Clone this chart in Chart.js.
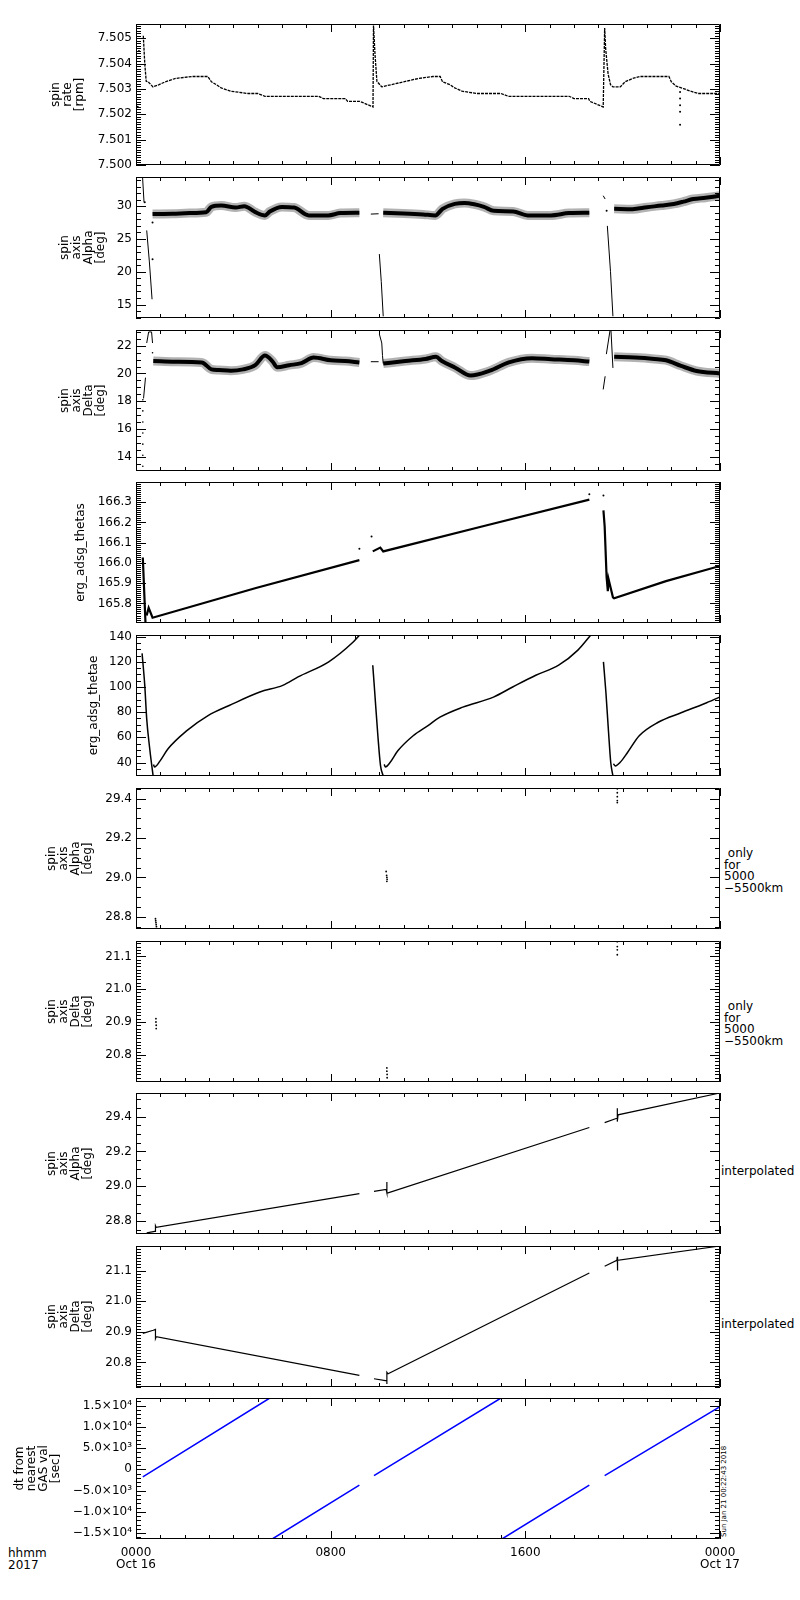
<!DOCTYPE html>
<html>
<head>
<meta charset="utf-8">
<script src="https://cdn.jsdelivr.net/npm/chart.js@4.4.0/dist/chart.umd.min.js"></script>
<style>
  body { margin: 0; background: #fff; }
  #page { position: relative; width: 800px; height: 1600px; font-family: 'DejaVu Sans', sans-serif; font-size: 12px; color: #000; }
  #page canvas { position: absolute; left: 0; }
  .side { position: absolute; white-space: pre; line-height: 11.7px; }
</style>
</head>
<body>
<div id="page">
  <div class="side" style="left:724px; top:848px;"> only
for
5000
−5500km</div>
  <div class="side" style="left:724px; top:1001px;"> only
for
5000
−5500km</div>
  <div class="side" style="left:721px; top:1166px;">interpolated</div>
  <div class="side" style="left:721px; top:1319px;">interpolated</div>
  <div class="side" style="left:8px; top:1547px; line-height:12px;">hhmm
2017</div>
  <div style="position:absolute; left:721px; top:1537px; font-size:7px; line-height:7px; white-space:nowrap; transform-origin:0 0; transform:rotate(-90deg);">Sun Jan 21 00:22:43 2018</div>
</div>
<script>
// time axis (hours since 0000 Oct 16)
const timeTicks = [0, 8, 16, 24];
const timeLabels = [['0000', 'Oct 16'], ['0800'], ['1600'], ['0000', 'Oct 17']];

// spin rate [rpm]
const rateHours = [0.30, 0.36, 0.42, 0.5, 0.7, 0.95, 1.2, 1.6, 2.3, 2.95,
  3.1, 3.3, 3.5, 3.9, 4.6, 5.0, 5.3, 7.5, 7.7, 8.6,
  8.7, 9.2, 9.74, 9.76, 9.82, 9.9, 10.1, 10.5, 11.0, 11.6,
  12.2, 12.5, 12.6, 12.9, 13.1, 13.4, 14.0, 15.0, 15.3, 17.8,
  18.0, 18.6, 18.65, 19.2, 19.26, 19.3, 19.4, 19.5, 19.6, 19.9,
  20.1, 20.4, 20.7, 21.9, 22.0, 22.2, 22.5, 22.8, 23.1, 24.0];
const rateRpm = [7.5051, 7.5040, 7.5033, 7.50328, 7.50308, 7.50317, 7.50328, 7.50341, 7.50349, 7.50349,
  7.50328, 7.50317, 7.50304, 7.50291, 7.50282, 7.50282, 7.50271, 7.50271, 7.50262, 7.50262,
  7.50251, 7.50251, 7.50229, 7.5055, 7.5044, 7.5033, 7.50308, 7.50317, 7.50328, 7.50341,
  7.50349, 7.50349, 7.50328, 7.50317, 7.50304, 7.50291, 7.50282, 7.50282, 7.50271, 7.50271,
  7.50262, 7.50262, 7.50251, 7.50229, 7.5054, 7.5046, 7.5036, 7.50317, 7.50308, 7.50308,
  7.50328, 7.50341, 7.50349, 7.50349, 7.50328, 7.50311, 7.50301, 7.50291, 7.50282, 7.50282];
const rateDotHours = [0.07, 0.12, 22.36, 22.36, 22.36, 22.36, 22.36];
const rateDotRpm = [7.5023, 7.5045, 7.50288, 7.50262, 7.50236, 7.5021, 7.50159];
const rateTicks = [7.500, 7.501, 7.502, 7.503, 7.504, 7.505];

// spin axis Alpha [deg]
const alphaBandHours = [0.68, 1.5, 2.2, 2.88, 3.1, 3.5, 4.1, 4.45, 4.9, 5.3, 5.5, 6.0, 6.5, 7.1, 7.9, 8.4, 9.18,
  9.5,
  10.16, 11.0, 11.8, 12.3, 12.6, 13.1, 13.5, 13.9, 14.3, 14.7, 15.5, 16.1, 17.05, 17.8, 18.63,
  19.0,
  19.65, 20.4, 21.0, 21.6, 22.1, 22.5, 22.9, 23.4, 24];
const alphaBandDeg = [28.82, 28.85, 28.95, 29.08, 29.9, 30.1, 29.8, 30.0, 29.1, 28.6, 29.2, 29.9, 29.8, 28.6, 28.6, 28.95, 29.0,
  null,
  29.0, 28.9, 28.75, 28.6, 29.6, 30.35, 30.5, 30.3, 29.9, 29.3, 29.2, 28.6, 28.6, 28.95, 29.0,
  null,
  29.6, 29.55, 29.85, 30.1, 30.35, 30.7, 31.1, 31.3, 31.6];
const alphaThinHours = [0.27, 0.33, 0.38, 0.44, 0.55, 0.66, 0.7, 9.65, 9.97, 9.98, 10.0, 10.08, 10.16, 10.5, 19.2, 19.28, 19.3, 19.37, 19.5, 19.6];
const alphaThinDeg = [34.4, 30.6, null, 26.3, 21.5, 15.8, null, 28.8, 28.85, null, 22.7, 18.5, 13.2, null, 31.6, 31.1, null, 27.0, 20.0, 13.2];
const alphaDotHours = [0.36, 0.68, 0.68, 19.34];
const alphaDotDeg = [30.6, 27.5, 21.9, 29.3];
const alphaTicks = [15, 20, 25, 30];

// spin axis Delta [deg]
const deltaBandHours = [0.71, 1.6, 2.7, 3.1, 3.4, 3.9, 4.4, 4.9, 5.3, 5.6, 5.8, 6.3, 6.8, 7.3, 8.0, 8.6, 9.18,
  9.6,
  10.16, 11.07, 11.9, 12.33, 12.57, 13.12, 13.75, 14.54, 15.32, 16.27, 17.06, 18.0, 18.63,
  19.0,
  19.65, 20.5, 21.3, 21.78, 22.4, 23.04, 24];
const deltaBandDeg = [20.9, 20.85, 20.8, 20.3, 20.25, 20.2, 20.3, 20.6, 21.3, 20.9, 20.45, 20.6, 20.75, 21.15, 20.95, 20.9, 20.8,
  null,
  20.72, 20.9, 21.05, 21.2, 20.9, 20.42, 19.85, 20.2, 20.8, 21.1, 21.03, 20.95, 20.86,
  null,
  21.2, 21.15, 21.05, 20.96, 20.55, 20.18, 20.0];
const deltaThinHours = [0.31, 0.39, 0.4, 0.44, 0.52, 0.64, 0.68, 0.7, 9.65, 9.97, 9.98, 10.0, 10.1, 10.13, 10.16, 10.5, 19.2, 19.28, 19.3, 19.33, 19.48, 19.5, 19.52, 19.6];
const deltaThinDeg = [18.2, 19.7, null, 22.2, 23.0, 23.0, 22.2, null, 20.85, 20.85, null, 22.85, 22.2, 21.3, 20.72, null, 18.85, 19.8, null, 21.4, 23.1, null, 23.1, 20.4];
const deltaDotHours = [0.28, 0.28, 0.28, 0.28, 0.28, 0.28, 0.28, 0.68];
const deltaDotDeg = [13.3, 14.1, 14.9, 15.7, 16.5, 17.3, 18.1, 21.5];
const deltaTicks = [14, 16, 18, 20, 22];

// erg_adsg_thetas
const thetasHours = [0.28, 0.39, 0.41, 0.44, 0.52, 0.68, 4.93, 9.18, 9.5, 9.73, 10.04, 10.16, 14.38, 18.63, 19.0,
  19.21, 19.26, 19.34, 19.39, 19.42, 19.6, 19.65, 21.78, 24];
const thetasVals = [166.027, 165.703, null, 165.74, 165.778, 165.729, 165.876, 166.014, null, 166.057, 166.076, 166.057, 166.185, 166.313, null,
  166.26, 166.18, 165.93, 165.86, 165.92, 165.83, 165.825, 165.91, 165.985];
const thetasDotHours = [9.18, 9.68, 18.63, 19.21];
const thetasDotVals = [166.07, 166.13, 166.34, 166.333];
const thetasTicks = [165.8, 165.9, 166.0, 166.1, 166.2, 166.3];

// erg_adsg_thetae
const thetaeHours = [0.25, 0.36, 0.44, 0.55, 0.65, 0.70, 0.71,
  0.72, 0.76, 0.99, 1.31, 2.09, 2.96, 3.83, 5.09, 6.03, 6.66, 7.92, 8.87, 9.2, 9.4,
  9.73, 9.81, 9.94, 10.05, 10.16, 10.17,
  10.2, 10.25, 10.44, 10.76, 11.39, 12.0, 12.49, 13.43, 14.69, 15.48, 16.43, 17.37, 18.16, 18.7, 19.0,
  19.21, 19.31, 19.42, 19.51, 19.6, 19.61,
  19.62, 19.7, 19.89, 20.2, 20.68, 21.46, 22.4, 23.35, 23.98];
const thetaeVals = [126.7, 101.3, 74.7, 53.3, 37.3, 30.0, null,
  38.5, 36.5, 41.3, 50.7, 65.3, 77.3, 85.3, 96, 101.3, 108, 120, 134.7, 141.5, null,
  117.3, 96, 61.3, 37.3, 29.3, null,
  38.5, 36.5, 40, 49.3, 61.3, 69.3, 76, 84, 92, 100, 109.3, 117.3, 129.3, 141.5, null,
  120, 96, 64, 40, 29.3, null,
  39, 37.3, 40, 48, 61.3, 72, 79.5, 86.7, 92];
const thetaeTicks = [40, 60, 80, 100, 120, 140];

// spin axis Alpha, only for 5000-5500km
const alphaGasHours = [0.80, 0.81, 0.82, 0.83, 0.84, 10.28, 10.30, 10.31, 10.32, 10.31, 19.78, 19.78, 19.78, 19.78, 19.78];
const alphaGasDeg = [28.79, 28.78, 28.77, 28.76, 28.75, 29.03, 29.01, 29.0, 28.99, 28.98, 29.45, 29.43, 29.41, 29.39, 29.38];
const alphaGasTicks = [28.8, 29.0, 29.2, 29.4];

// spin axis Delta, only for 5000-5500km
const deltaGasHours = [0.82, 0.82, 0.83, 0.83, 10.31, 10.31, 10.32, 10.32, 19.78, 19.78, 19.78, 19.78];
const deltaGasDeg = [20.91, 20.90, 20.89, 20.88, 20.76, 20.75, 20.74, 20.73, 21.145, 21.13, 21.12, 21.105];
const deltaGasTicks = [20.8, 20.9, 21.0, 21.1];

// spin axis Alpha, interpolated
const alphaInterpHours = [0.44, 0.77, 0.80, 0.80, 0.83, 9.18, 9.5, 9.78, 10.28, 10.31, 10.31, 10.31, 10.36, 18.63, 19.0,
  19.26, 19.76, 19.78, 19.78, 19.78, 19.81, 24];
const alphaInterpDeg = [28.733, 28.742, 28.742, 28.775, 28.765, 28.958, null, 28.971, 28.983, 28.983, 29.025, 28.963, 28.963, 29.337, null,
  29.365, 29.39, 29.39, 29.448, 29.371, 29.41, 29.535];
const alphaInterpTicks = [28.8, 29.0, 29.2, 29.4];

// spin axis Delta, interpolated
const deltaInterpHours = [0.28, 0.71, 0.80, 0.80, 0.83, 9.18, 9.5, 9.78, 10.25, 10.31, 10.31, 10.31, 10.36, 18.63, 19.0,
  19.26, 19.76, 19.78, 19.78, 19.80, 24];
const deltaInterpDeg = [20.895, 20.905, 20.908, 20.878, 20.884, 20.758, null, 20.747, 20.741, 20.741, 20.73, 20.768, 20.763, 21.092, null,
  21.114, 21.133, 21.145, 21.10, 21.133, 21.18];
const deltaInterpTicks = [20.8, 20.9, 21.0, 21.1];

// dt from nearest GAS val [sec]
const dtHours = [0.28, 5.5, 5.55, 5.6, 9.18, 9.5, 9.78, 15.0, 15.02, 15.04, 18.63, 19.0, 19.26, 24];
const dtSec = [-1750, 16800, null, -16400, -3700, null, -1500, 16800, null, -16400, -3700, null, -1500, 14760];
const dtTicks = [-15000, -10000, -5000, 0, 5000, 10000, 15000];
const dtTickLabels = ['−1.5×10⁴', '−1.0×10⁴', '−5.0×10³', '0', '5.0×10³', '1.0×10⁴', '1.5×10⁴'];

Chart.defaults.font.family = "'DejaVu Sans', sans-serif";
Chart.defaults.font.size = 12;
Chart.defaults.color = '#000';

const pts = (xs, ys) => xs.map((x, i) => ({x: x, y: ys[i]}));

function line(xs, ys, width, color, extra) {
  return Object.assign({data: pts(xs, ys), showLine: true, borderColor: color || '#000', borderWidth: width,
    pointRadius: 0, spanGaps: false}, extra || {});
}
function dots(xs, ys, r) {
  return {data: pts(xs, ys), showLine: false, pointRadius: r, pointBackgroundColor: '#000',
    pointBorderWidth: 0, borderColor: '#000'};
}

// IDL style box with inward ticks on all four sides
const idlFrame = {
  id: 'idlFrame',
  afterDraw(chart, args, o) {
    const {ctx, chartArea: a} = chart;
    const x = chart.scales.x, y = chart.scales.y;
    ctx.save();
    ctx.strokeStyle = '#000';
    ctx.lineWidth = 1;
    ctx.beginPath();
    ctx.rect(a.left + 0.5, a.top + 0.5, a.right - a.left - 1, a.bottom - a.top - 1);
    for (let h = 0; h <= 24; h++) {
      const px = Math.round(x.getPixelForValue(h)) + 0.5;
      const len = h % 8 === 0 ? 8 : 4;
      ctx.moveTo(px, a.bottom); ctx.lineTo(px, a.bottom - len);
      ctx.moveTo(px, a.top); ctx.lineTo(px, a.top + len);
    }
    const k0 = Math.ceil(y.min / o.minor - 1e-6), k1 = Math.floor(y.max / o.minor + 1e-6);
    for (let k = k0; k <= k1; k++) {
      const v = k * o.minor;
      const major = o.ticks.some(t => Math.abs(t - v) < o.minor / 10);
      const len = major ? 10 : 5;
      const py = Math.round(y.getPixelForValue(v)) + 0.5;
      ctx.moveTo(a.left, py); ctx.lineTo(a.left + len, py);
      ctx.moveTo(a.right, py); ctx.lineTo(a.right - len, py);
    }
    ctx.stroke();
    ctx.restore();
  }
};

const smooth = {cubicInterpolationMode: 'monotone'};
// noisy attitude band: dark core plus a scattered fringe
const band = (xs, ys) => [line(xs, ys, 9, 'rgba(0,0,0,0.3)', smooth), line(xs, ys, 4, '#000', smooth)];
const spinAxis = (name) => ['spin', 'axis', name, '[deg]'];

const panels = [
  {top: 24, min: 7.5, max: 7.50556, ticks: rateTicks, minor: 0.0001, fmt: v => v.toFixed(3),
    title: ['spin', 'rate', '[rpm]'], titleX: 56,
    sets: [line(rateHours, rateRpm, 1.3, '#000', {borderDash: [3, 1]}), dots(rateDotHours, rateDotRpm, 1)]},
  {top: 177, min: 12.94, max: 34.46, ticks: alphaTicks, minor: 1, fmt: v => v.toFixed(0),
    title: spinAxis('Alpha'), titleX: 65,
    sets: [...band(alphaBandHours, alphaBandDeg), line(alphaThinHours, alphaThinDeg, 1), dots(alphaDotHours, alphaDotDeg, 1)]},
  {top: 330, min: 12.96, max: 23.14, ticks: deltaTicks, minor: 0.5, fmt: v => v.toFixed(0),
    title: spinAxis('Delta'), titleX: 65,
    sets: [...band(deltaBandHours, deltaBandDeg), line(deltaThinHours, deltaThinDeg, 1), dots(deltaDotHours, deltaDotDeg, 0.8)]},
  {top: 482, min: 165.703, max: 166.40, ticks: thetasTicks, minor: 0.01, fmt: v => v.toFixed(1),
    title: ['erg_adsg_thetas'], titleX: 81,
    sets: [line(thetasHours, thetasVals, 2.2), dots(thetasDotHours, thetasDotVals, 1)]},
  {top: 635, min: 29.3, max: 141.3, ticks: thetaeTicks, minor: 5, fmt: v => v.toFixed(0),
    title: ['erg_adsg_thetae'], titleX: 94,
    sets: [line(thetaeHours, thetaeVals, 1.5, '#000', smooth)]},
  {top: 788, min: 28.738, max: 29.454, ticks: alphaGasTicks, minor: 0.05, fmt: v => v.toFixed(1),
    title: spinAxis('Alpha'), titleX: 52,
    sets: [dots(alphaGasHours, alphaGasDeg, 0.9)]},
  {top: 941, min: 20.717, max: 21.147, ticks: deltaGasTicks, minor: 0.01, fmt: v => v.toFixed(1),
    title: spinAxis('Delta'), titleX: 52,
    sets: [dots(deltaGasHours, deltaGasDeg, 0.9)]},
  {top: 1093, min: 28.727, max: 29.535, ticks: alphaInterpTicks, minor: 0.05, fmt: v => v.toFixed(1),
    title: spinAxis('Alpha'), titleX: 52,
    sets: [line(alphaInterpHours, alphaInterpDeg, 1.2)]},
  {top: 1246, min: 20.72, max: 21.18, ticks: deltaInterpTicks, minor: 0.01, fmt: v => v.toFixed(1),
    title: spinAxis('Delta'), titleX: 52,
    sets: [line(deltaInterpHours, deltaInterpDeg, 1.2)]},
  {top: 1398, min: -16400, max: 16800, ticks: dtTicks, minor: 1000, fmt: (v, i) => dtTickLabels[i],
    title: ['dt from', 'nearest', 'GAS val', '[sec]'], titleX: 20, bottomAxis: true,
    sets: [line(dtHours, dtSec, 1.5, '#0000ff')]}
];

const PAD = 14, PLOT_H = 141, XAXIS_H = 40;
const page = document.getElementById('page');

panels.forEach(p => {
  const canvas = document.createElement('canvas');
  const h = PAD + PLOT_H + (p.bottomAxis ? XAXIS_H + 10 : PAD);
  canvas.width = 800;
  canvas.height = h;
  canvas.style.top = (p.top - PAD) + 'px';
  page.appendChild(canvas);

  const xScale = {
    type: 'linear', min: 0, max: 24, display: false
  };
  if (p.bottomAxis) {
    Object.assign(xScale, {
      display: true,
      grid: {display: false, drawTicks: false},
      border: {display: false},
      ticks: {autoSkip: false, maxRotation: 0, padding: 8, font: {size: 12, lineHeight: 1},
        callback: (v, i) => timeLabels[i]},
      afterBuildTicks: s => { s.ticks = timeTicks.map(v => ({value: v})); },
      afterFit: s => { s.height = XAXIS_H; }
    });
  }

  new Chart(canvas, {
    type: 'scatter',
    data: {datasets: p.sets},
    options: {
      responsive: false,
      devicePixelRatio: 1,
      animation: false,
      layout: {padding: {left: 0, right: 80, top: PAD, bottom: p.bottomAxis ? 10 : PAD}},
      plugins: {
        legend: {display: false},
        tooltip: {enabled: false},
        idlFrame: {ticks: p.ticks, minor: p.minor}
      },
      scales: {
        x: xScale,
        y: {
          type: 'linear', min: p.min, max: p.max,
          grid: {display: false, drawTicks: false},
          border: {display: false},
          ticks: {autoSkip: false, padding: 4, font: {size: 12, lineHeight: 1},
            callback: (v, i) => p.fmt(v, i)},
          afterBuildTicks: s => { s.ticks = p.ticks.map(v => ({value: v})); },
          afterFit: s => { s.width = 136; },
          title: {display: true, text: p.title, font: {size: 12, lineHeight: 1},
            padding: {top: p.titleX - 6, bottom: 0}}
        }
      }
    },
    plugins: [idlFrame]
  });
});
</script>
</body>
</html>
